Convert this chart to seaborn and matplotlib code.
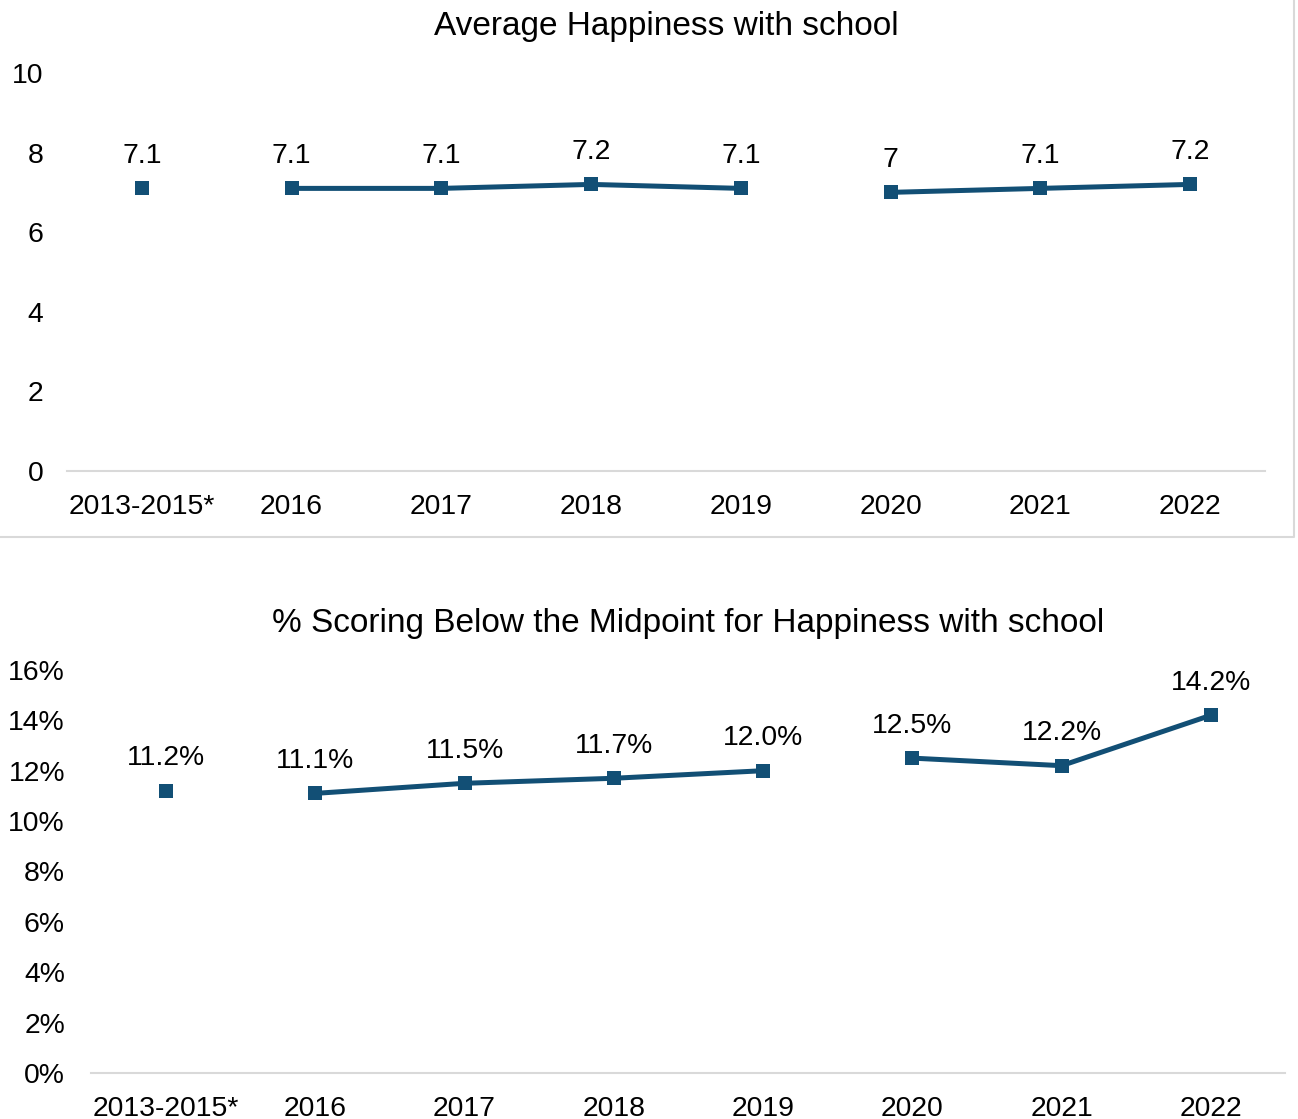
import pandas as pd
import matplotlib.pyplot as plt
import seaborn as sns
from matplotlib.lines import Line2D
from matplotlib.ticker import FuncFormatter

# Chart data
years = ['2013-2015*', '2016', '2017', '2018', '2019', '2020', '2021', '2022']
segments = [0, 1, 1, 1, 1, 2, 2, 2]  # line breaks before 2016 and 2020
avg_happiness = [7.1, 7.1, 7.1, 7.2, 7.1, 7.0, 7.1, 7.2]
avg_labels = ['7.1', '7.1', '7.1', '7.2', '7.1', '7', '7.1', '7.2']
pct_below = [11.2, 11.1, 11.5, 11.7, 12.0, 12.5, 12.2, 14.2]

LINE_COLOR = '#124F75'
GRID_COLOR = '#D9D9D9'

sns.set_theme(style='white')
plt.rcParams['font.family'] = ['Liberation Sans', 'DejaVu Sans']

fig = plt.figure(figsize=(12.98, 11.19), dpi=100)
ax_top = fig.add_axes([0.0516, 0.5791, 0.9230, 0.3557])
ax_bot = fig.add_axes([0.0704, 0.0411, 0.9199, 0.3602])

# Right and bottom edges of the top chart's frame
x_edge = 1294 / 1298
y_edge = 1 - 537 / 1119
fig.lines.append(Line2D([0, x_edge, x_edge], [y_edge, y_edge, 1],
                        transform=fig.transFigure, color=GRID_COLOR, linewidth=1.5))


def draw_panel(ax, values, labels, title, ymax, ystep, fmt, tick_pad):
    df = pd.DataFrame({'pos': range(len(years)), 'value': values, 'seg': segments})
    sns.lineplot(data=df, x='pos', y='value', units='seg', estimator=None,
                 color=LINE_COLOR, marker='s', markersize=10.5, linewidth=3.6,
                 markeredgewidth=0, ax=ax)
    for x, y, lab in zip(df['pos'], df['value'], labels):
        ax.annotate(lab, (x, y), xytext=(0, 14), textcoords='offset points',
                    ha='center', va='bottom', fontsize=20.4, color='black')
    ax.set_xlim(-0.5, len(years) - 0.5)
    ax.set_ylim(0, ymax)
    ax.set_yticks([i * ystep for i in range(int(ymax / ystep) + 1)])
    ax.yaxis.set_major_formatter(FuncFormatter(fmt))
    ax.set_xticks(range(len(years)))
    ax.set_xticklabels(years)
    ax.tick_params(axis='both', length=0, labelsize=20.4, colors='black')
    ax.tick_params(axis='y', pad=tick_pad)
    ax.tick_params(axis='x', pad=16.5)
    for side in ['top', 'right', 'left']:
        ax.spines[side].set_visible(False)
    ax.spines['bottom'].set_color(GRID_COLOR)
    ax.spines['bottom'].set_linewidth(1.5)
    ax.set_xlabel('')
    ax.set_ylabel('')
    ax.set_title(title, fontsize=24, pad=27.5, color='black')
    ax.set_facecolor('none')


draw_panel(ax_top, avg_happiness, avg_labels, 'Average Happiness with school',
           10, 2, lambda v, p: f'{v:g}', 17)
draw_panel(ax_bot, pct_below, [f'{v:.1f}%' for v in pct_below],
           '% Scoring Below the Midpoint for Happiness with school',
           16, 2, lambda v, p: f'{v:g}%', 19)

fig.savefig('out.png', dpi=100, facecolor='white')
